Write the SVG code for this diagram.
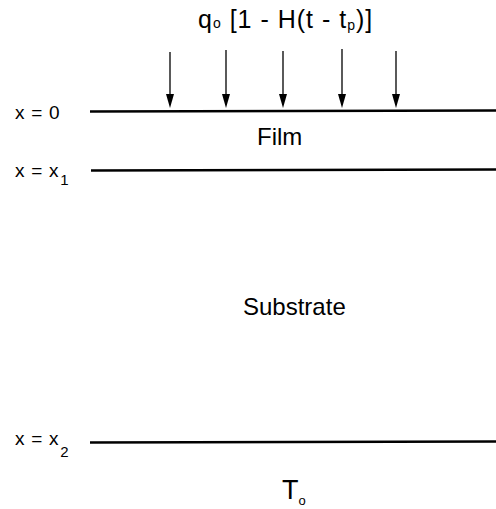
<svg xmlns="http://www.w3.org/2000/svg" width="496" height="509" viewBox="0 0 496 509">
<style>
text{font-family:"Liberation Sans",Arial,sans-serif;fill:#000}
.lbl{font-size:19px;letter-spacing:0.7px}
.bound{stroke:#000;stroke-width:2.5}
.arr{stroke:#000;stroke-width:1.3}
.head{fill:#000}
</style>
<rect width="496" height="509" fill="#fff"/>
<g id="title"><text x="198" y="28" font-size="25" letter-spacing="1">q<tspan font-size="14">o</tspan> [1 - H(t - t<tspan font-size="14" dy="2">p</tspan><tspan dy="-2">)]</tspan></text></g>
<g id="connectors">
<line class="arr" x1="170" y1="52" x2="170" y2="96"/><polygon class="head" points="166,94 174,94 170,108"/>
<line class="arr" x1="226" y1="50" x2="226" y2="96"/><polygon class="head" points="222,94 230,94 226,108"/>
<line class="arr" x1="283" y1="51" x2="283" y2="96"/><polygon class="head" points="279,94 287,94 283,108"/>
<line class="arr" x1="342" y1="49" x2="342" y2="96"/><polygon class="head" points="338,94 346,94 342,108"/>
<line class="arr" x1="396" y1="51" x2="396" y2="96"/><polygon class="head" points="392,94 400,94 396,108"/>
</g>
<g id="boundary0"><line class="bound" x1="90" y1="111.5" x2="496" y2="110.5"/><text class="lbl" x="15" y="119">x = 0</text></g>
<g id="film"><text x="257" y="145" font-size="24">Film</text></g>
<g id="boundary1"><line class="bound" x1="91" y1="170.5" x2="496" y2="169.5"/><text class="lbl" x="15" y="177">x = x<tspan font-size="15" dx="1" dy="8">1</tspan></text></g>
<g id="substrate"><text x="243" y="315" font-size="24">Substrate</text></g>
<g id="boundary2"><line class="bound" x1="90" y1="442.5" x2="496" y2="441.5"/><text class="lbl" x="15" y="445">x = x<tspan font-size="15" dx="1" dy="12">2</tspan></text></g>
<g id="T0"><text x="282" y="499" font-size="27">T<tspan font-size="13" dy="6">o</tspan></text></g>
</svg>
